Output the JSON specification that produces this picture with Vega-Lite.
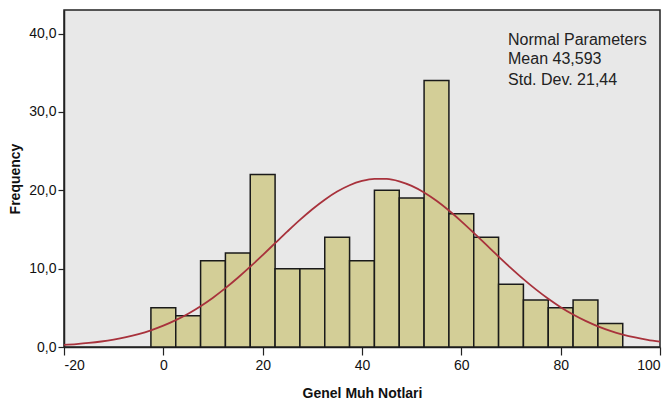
{
  "$schema": "https://vega.github.io/schema/vega-lite/v6.json",
  "width": 596,
  "height": 337,
  "autosize": "none",
  "padding": {"left": 64, "top": 10, "right": 7, "bottom": 61},
  "background": "white",
  "config": {
    "view": {"fill": "#e8e8e8", "stroke": "#222222", "strokeWidth": 1.5},
    "font": "Liberation Sans",
    "axis": {
      "grid": false,
      "domainColor": "#222222",
      "domainWidth": 1.5,
      "tickColor": "#222222",
      "tickSize": 6,
      "tickWidth": 1.2,
      "labelFont": "Liberation Sans",
      "labelFontSize": 14,
      "labelColor": "#111111",
      "titleFont": "Liberation Sans",
      "titleFontSize": 14,
      "titleFontWeight": "bold",
      "titleColor": "#111111"
    }
  },
  "datasets": {
    "bins": [
      {"start": -2.5, "end": 2.5, "count": 5},
      {"start": 2.5, "end": 7.5, "count": 4},
      {"start": 7.5, "end": 12.5, "count": 11},
      {"start": 12.5, "end": 17.5, "count": 12},
      {"start": 17.5, "end": 22.5, "count": 22},
      {"start": 22.5, "end": 27.5, "count": 10},
      {"start": 27.5, "end": 32.5, "count": 10},
      {"start": 32.5, "end": 37.5, "count": 14},
      {"start": 37.5, "end": 42.5, "count": 11},
      {"start": 42.5, "end": 47.5, "count": 20},
      {"start": 47.5, "end": 52.5, "count": 19},
      {"start": 52.5, "end": 57.5, "count": 34},
      {"start": 57.5, "end": 62.5, "count": 17},
      {"start": 62.5, "end": 67.5, "count": 14},
      {"start": 67.5, "end": 72.5, "count": 8},
      {"start": 72.5, "end": 77.5, "count": 6},
      {"start": 77.5, "end": 82.5, "count": 5},
      {"start": 82.5, "end": 87.5, "count": 6},
      {"start": 87.5, "end": 92.5, "count": 3}
    ],
    "curve": [
      {"x": -20, "y": 0.264}, {"x": -17.5, "y": 0.371}, {"x": -15, "y": 0.514}, {"x": -12.5, "y": 0.701},
      {"x": -10, "y": 0.945}, {"x": -7.5, "y": 1.256}, {"x": -5, "y": 1.647}, {"x": -2.5, "y": 2.131},
      {"x": 0, "y": 2.72}, {"x": 2.5, "y": 3.423}, {"x": 5, "y": 4.253}, {"x": 7.5, "y": 5.211},
      {"x": 10, "y": 6.297}, {"x": 12.5, "y": 7.508}, {"x": 15, "y": 8.832}, {"x": 17.5, "y": 10.246},
      {"x": 20, "y": 11.729}, {"x": 22.5, "y": 13.244}, {"x": 25, "y": 14.753}, {"x": 27.5, "y": 16.214},
      {"x": 30, "y": 17.577}, {"x": 32.5, "y": 18.797}, {"x": 35, "y": 19.831}, {"x": 37.5, "y": 20.639},
      {"x": 40, "y": 21.191}, {"x": 42.5, "y": 21.462}, {"x": 45, "y": 21.445}, {"x": 47.5, "y": 21.135},
      {"x": 50, "y": 20.551}, {"x": 52.5, "y": 19.713}, {"x": 55, "y": 18.653}, {"x": 57.5, "y": 17.413},
      {"x": 60, "y": 16.036}, {"x": 62.5, "y": 14.568}, {"x": 65, "y": 13.055}, {"x": 67.5, "y": 11.54},
      {"x": 70, "y": 10.066}, {"x": 72.5, "y": 8.658}, {"x": 75, "y": 7.35}, {"x": 77.5, "y": 6.155},
      {"x": 80, "y": 5.082}, {"x": 82.5, "y": 4.141}, {"x": 85, "y": 3.329}, {"x": 87.5, "y": 2.639},
      {"x": 90, "y": 2.065}, {"x": 92.5, "y": 1.593}, {"x": 95, "y": 1.214}, {"x": 97.5, "y": 0.912},
      {"x": 100, "y": 0.675}
    ],
    "notes": [
      {"x": 69.4, "y": 39.2, "label": "Normal Parameters"},
      {"x": 69.4, "y": 36.7, "label": "Mean 43,593"},
      {"x": 69.4, "y": 34.1, "label": "Std. Dev. 21,44"}
    ]
  },
  "layer": [
    {
      "data": {"name": "bins"},
      "mark": {"type": "rect", "fill": "#d3ce97", "stroke": "#1a1a1a", "strokeWidth": 1.5},
      "encoding": {
        "x": {
          "field": "start", "type": "quantitative",
          "scale": {"domain": [-20, 100], "nice": false, "zero": false},
          "axis": {"values": [-20, 0, 20, 40, 60, 80, 100], "title": "Genel Muh Notlari", "titlePadding": 14, "labelPadding": 3,
                   "tickSize": 8, "labelExpr": "'' + datum.value"}
        },
        "x2": {"field": "end"},
        "y": {
          "field": "count", "type": "quantitative",
          "scale": {"domain": [0, 43], "nice": false},
          "axis": {"values": [0, 10, 20, 30, 40], "title": "Frequency", "titlePadding": 6, "labelPadding": 2,
                   "labelExpr": "replace(format(datum.value, '.1f'), '.', ',')"}
        },
        "y2": {"datum": 0}
      }
    },
    {
      "data": {"name": "curve"},
      "mark": {"type": "line", "color": "#a8323c", "strokeWidth": 1.8, "interpolate": "monotone"},
      "encoding": {
        "x": {"field": "x", "type": "quantitative"},
        "y": {"field": "y", "type": "quantitative"}
      }
    },
    {
      "data": {"name": "notes"},
      "mark": {"type": "text", "align": "left", "baseline": "middle", "fontSize": 16, "color": "#222222", "font": "Liberation Sans"},
      "encoding": {
        "x": {"field": "x", "type": "quantitative"},
        "y": {"field": "y", "type": "quantitative"},
        "text": {"field": "label"}
      }
    }
  ]
}
